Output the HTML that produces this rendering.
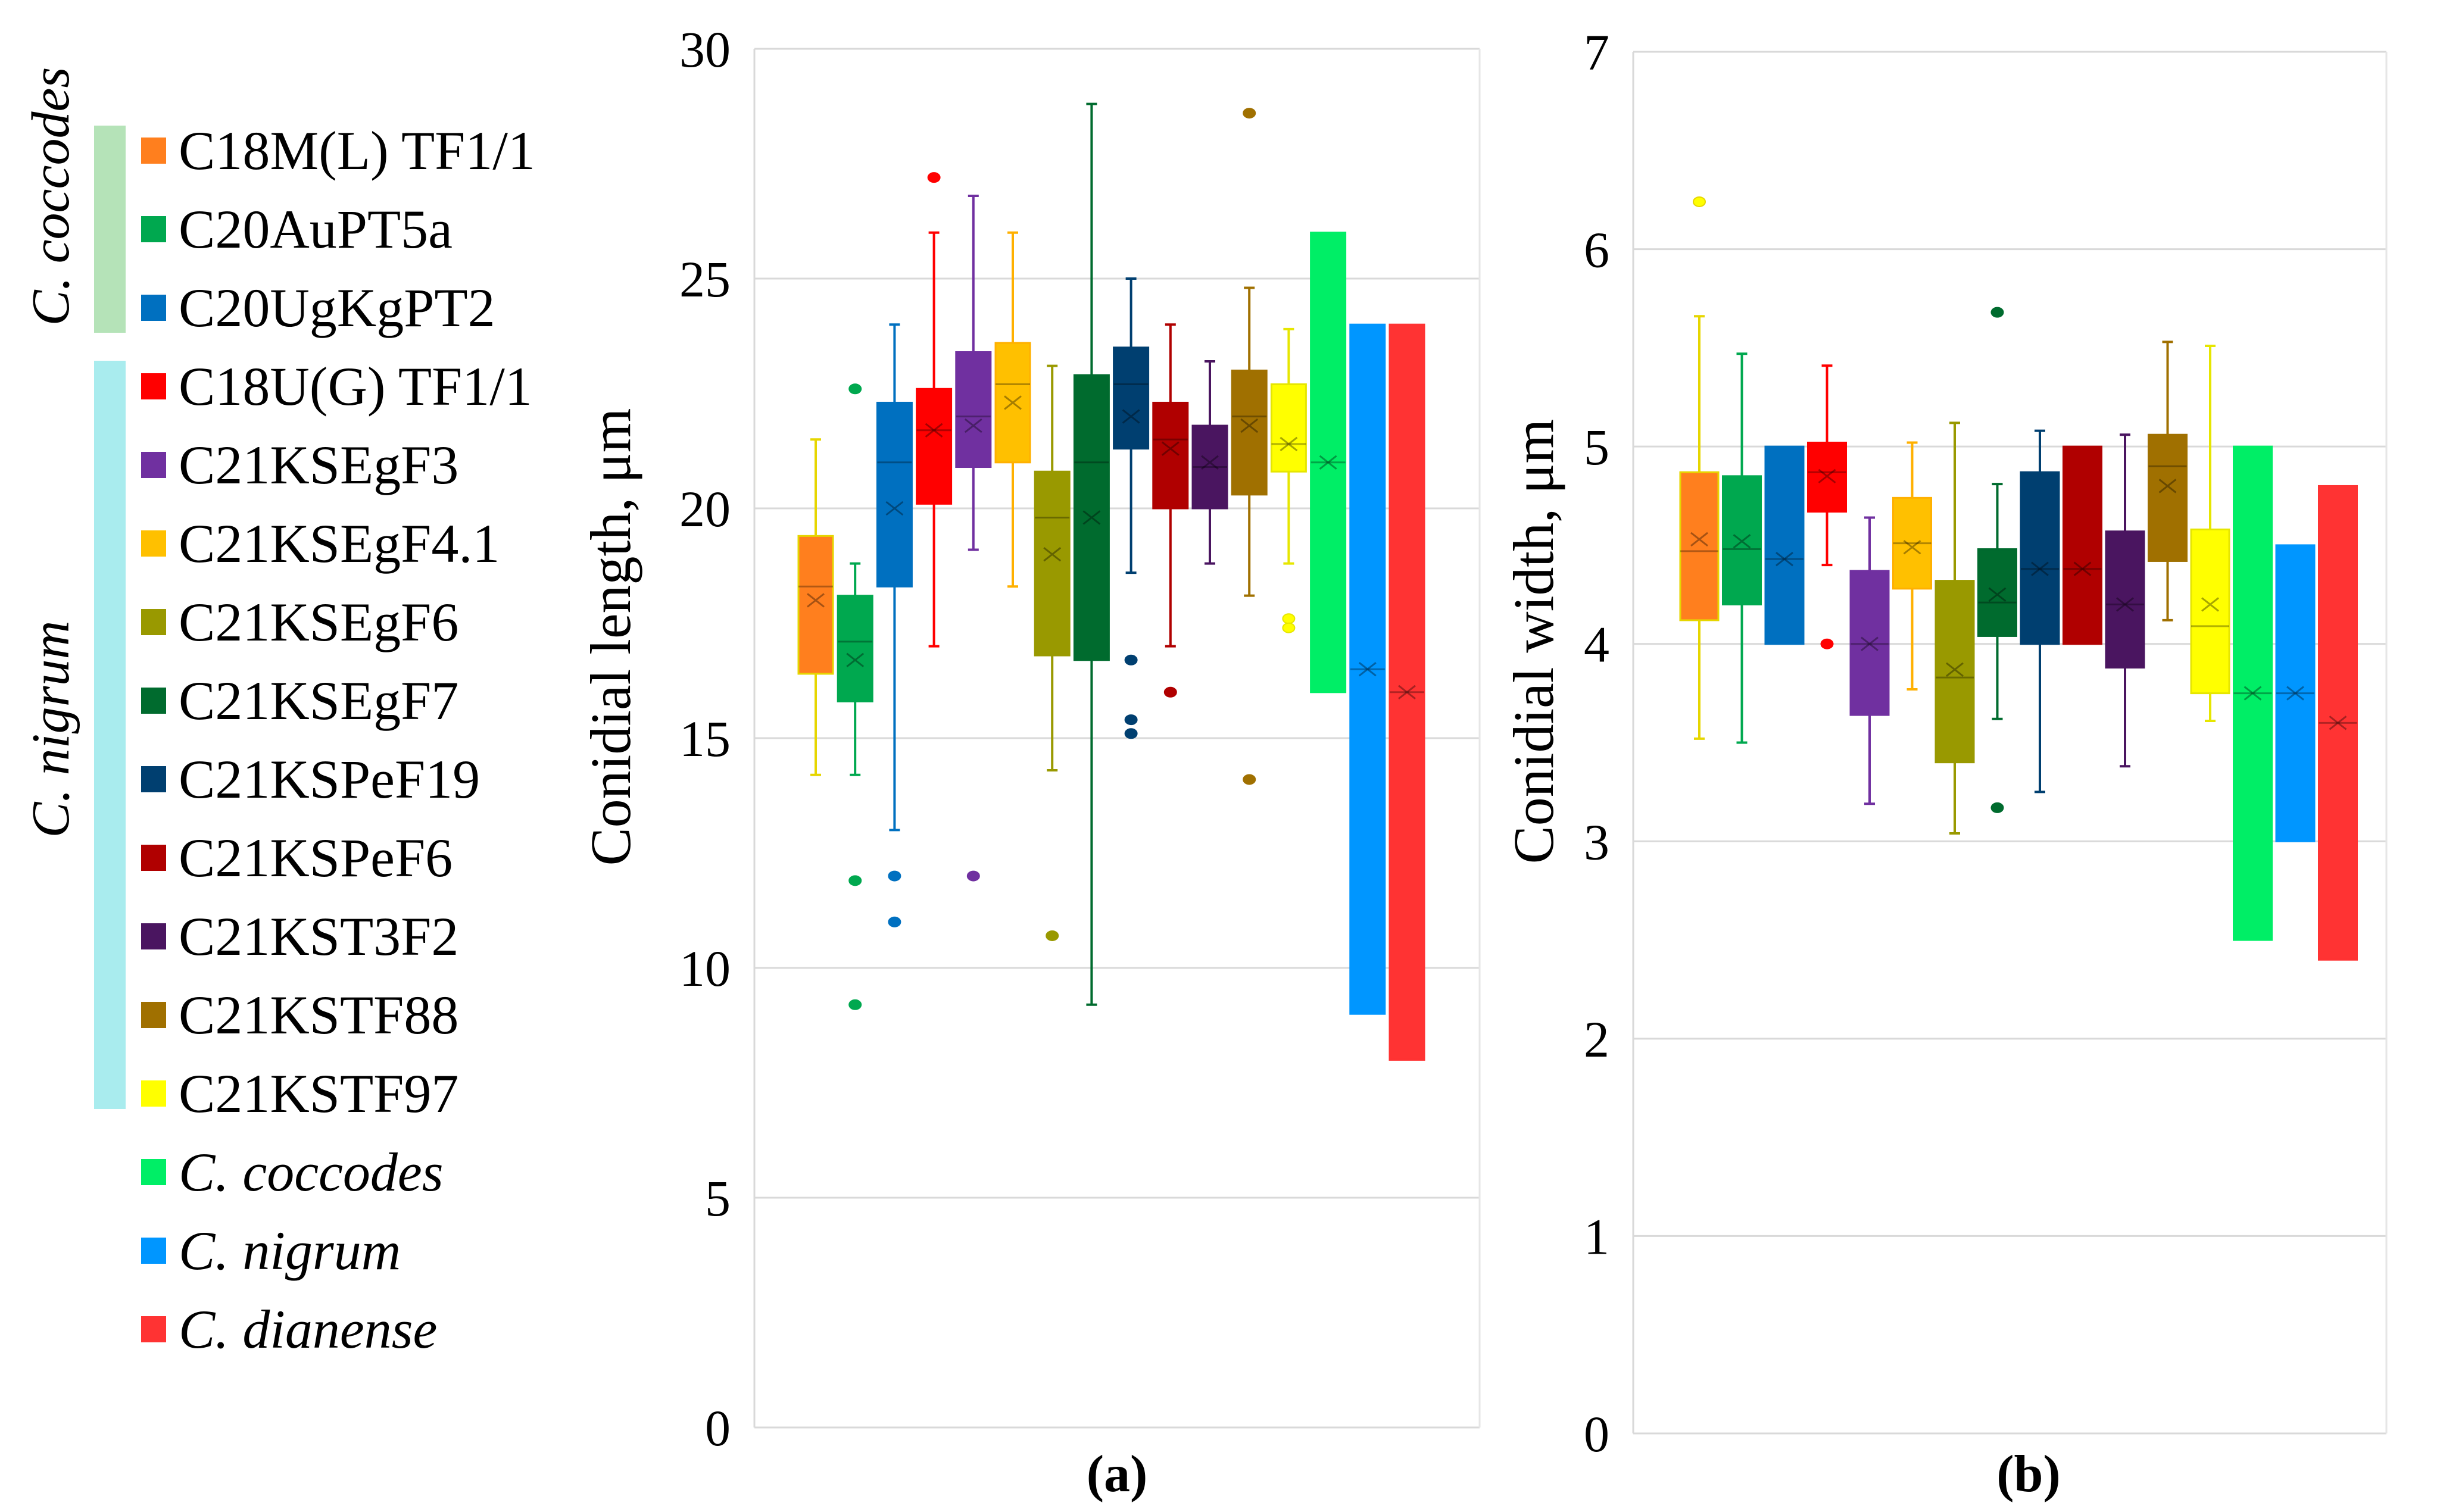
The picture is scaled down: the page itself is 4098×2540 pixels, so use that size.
<!DOCTYPE html>
<html><head><meta charset="utf-8">
<style>
html,body{margin:0;padding:0;background:#fff;}
svg{display:block;font-family:"Liberation Serif",serif;}
</style></head>
<body>
<svg id="chart" width="4098" height="2540" viewBox="0 0 4098 2540" xmlns="http://www.w3.org/2000/svg">
<g id="legend">
<rect x="158" y="211" width="53" height="348" fill="#b5e3b8"/>
<rect x="158" y="606" width="53" height="1257" fill="#a9ecee"/>
<text transform="translate(115,330) rotate(-90)" text-anchor="middle" font-size="90" font-style="italic">C. coccodes</text>
<text transform="translate(115,1225) rotate(-90)" text-anchor="middle" font-size="90" font-style="italic">C. nigrum</text>
</g>
<g id="pa"></g>
<g id="pb"></g>
</svg>
<script>
const names=["C18M(L) TF1/1","C20AuPT5a","C20UgKgPT2","C18U(G) TF1/1","C21KSEgF3","C21KSEgF4.1","C21KSEgF6","C21KSEgF7","C21KSPeF19","C21KSPeF6","C21KST3F2","C21KSTF88","C21KSTF97","C. coccodes","C. nigrum","C. dianense"];
const colors=["#ff7f1e","#00a84f","#0070c0","#ff0000","#7030a0","#ffc000","#999900","#006b2e","#003f70","#b00000","#4a1560","#a07000","#ffff00","#00ee66","#0096ff","#ff3333"];
const whiskColors=["#e6d600","#00a84f","#0070c0","#ff0000","#7030a0","#ffb000","#999900","#006b2e","#003f70","#b00000","#4a1560","#a07000","#e6e600","#00ee66","#0096ff","#ff3333"];
// Panel a: length
const aQ1=[16.4,15.8,18.3,20.1,20.9,21.0,16.8,16.7,21.3,20.0,20.0,20.3,20.8,16,9,8];
const aQ3=[19.4,18.1,22.3,22.6,23.4,23.6,20.8,22.9,23.5,22.3,21.8,23.0,22.7,26,24,24];
const aMed=[18.3,17.1,21.0,21.7,22.0,22.7,19.8,21.0,22.7,21.5,20.9,22.0,21.4,21,16.5,16];
const aMean=[18.0,16.7,20.0,21.7,21.8,22.3,19.0,19.8,22.0,21.3,21.0,21.8,21.4,21,16.5,16];
const aLo=[14.2,14.2,13.0,17.0,19.1,18.3,14.3,9.2,18.6,17.0,18.8,18.1,18.8,null,null,null];
const aHi=[21.5,18.8,24.0,26.0,26.8,26.0,23.1,28.8,25.0,24.0,23.2,24.8,23.9,null,null,null];
const aOut=[[],[22.6,11.9,9.2],[12,11],[27.2],[12],[],[10.7],[],[16.7,15.4,15.1],[16],[],[28.6,14.1],[17.6,17.4],[],[],[]];
const aTicks=[0,5,10,15,20,25,30];
// Panel b: width
const bQ1=[4.12,4.2,4.0,4.67,3.64,4.28,3.4,4.04,4.0,4.0,3.88,4.42,3.75,2.5,3.0,2.4];
const bQ3=[4.87,4.85,5.0,5.02,4.37,4.74,4.32,4.48,4.87,5.0,4.57,5.06,4.58,5.0,4.5,4.8];
const bMed=[4.47,4.48,4.43,4.87,4.0,4.51,3.83,4.21,4.38,4.38,4.2,4.9,4.09,3.75,3.75,3.6];
const bMean=[4.53,4.52,4.43,4.85,4.0,4.49,3.87,4.25,4.38,4.38,4.2,4.8,4.2,3.75,3.75,3.6];
const bLo=[3.52,3.5,null,4.4,3.19,3.77,3.04,3.62,3.25,null,3.38,4.12,3.61,null,null,null];
const bHi=[5.66,5.47,null,5.41,4.64,5.02,5.12,4.81,5.08,null,5.06,5.53,5.51,null,null,null];
const bOut=[[6.24],[],[],[4.0],[],[],[],[5.68,3.17],[],[],[],[],[],[],[],[]];
const bTicks=[0,1,2,3,4,5,6,7];

const NS="http://www.w3.org/2000/svg";
function el(parent,tag,attrs,text){const e=document.createElementNS(NS,tag);for(const k in attrs)e.setAttribute(k,attrs[k]);if(text!==undefined)e.textContent=text;parent.appendChild(e);return e;}

// legend
const lg=document.getElementById('legend');
names.forEach((n,i)=>{
  const y=253+i*132;
  const r=el(lg,'rect',{x:237,y:y-22,width:42,height:44,fill:colors[i]});
  
  
  const t=el(lg,'text',{x:300,y:y+31,'font-size':92,'font-style':i>=13?'italic':'normal'},n);
  
  
});

function panel(gid,cfg){
  const g=document.getElementById(gid);
  const {left,right,top,bottom,max,ticks,q1,q3,med,mean,lo,hi,out,first,step,bw,title,tx,label,lx}=cfg;
  const Y=v=>bottom-(v/max)*(bottom-top);
  const X=i=>first+i*step;
  ticks.forEach(t=>{
    const l=el(g,'line',{x1:left,x2:right,y1:Y(t),y2:Y(t),stroke:'#d9d9d9','stroke-width':3});
    
    
    const tt=el(g,'text',{x:left-40,y:Y(t)+30,'text-anchor':'end','font-size':86},String(t));
    
    
  });
  const ax=el(g,'line',{x1:left,x2:left,y1:top,y2:bottom,stroke:'#d9d9d9','stroke-width':3});
  
  
  const ax2=el(g,'line',{x1:right,x2:right,y1:top,y2:bottom,stroke:'#e6e6e6','stroke-width':3});
  
  
  q1.forEach((_,i)=>{
    const cx=X(i), wc=whiskColors[i], c=colors[i];
    if(lo[i]!==null){
      const w=el(g,'line',{x1:cx,x2:cx,y1:Y(hi[i]),y2:Y(lo[i]),stroke:wc,'stroke-width':4});
      
      
      [hi[i],lo[i]].forEach(v=>{
        const cap=el(g,'line',{x1:cx-9,x2:cx+9,y1:Y(v),y2:Y(v),stroke:wc,'stroke-width':4});
        
        
      });
    }
    const b=el(g,'rect',{x:cx-bw/2,y:Y(q3[i]),width:bw,height:Y(q1[i])-Y(q3[i]),fill:c,stroke:wc,'stroke-width':3});
    
    
    const m=el(g,'line',{x1:cx-bw/2,x2:cx+bw/2,y1:Y(med[i]),y2:Y(med[i]),stroke:'rgba(0,0,0,0.3)','stroke-width':3});
    
    
    const my=Y(mean[i]);
    const mk=el(g,'path',{d:`M${cx-14} ${my-11}L${cx+14} ${my+11}M${cx-14} ${my+11}L${cx+14} ${my-11}`,stroke:'rgba(0,0,0,0.35)','stroke-width':3,fill:'none'});
    
    
    out[i].forEach(v=>{
      const o=el(g,'ellipse',{cx:cx,cy:Y(v),rx:10,ry:8,fill:i===0?'#ffff00':c,stroke:wc,'stroke-width':2});
      
      
    });
  });
  const at=el(g,'text',{transform:`translate(${tx},${(top+bottom)/2-170}) rotate(-90)`,'text-anchor':'middle','font-size':96},title);
  
  
  const pl=el(g,'text',{x:lx,y:2505,'text-anchor':'middle','font-size':88,'font-weight':'bold'},label);
  
  
}
panel('pa',{left:1267,right:2485,top:82,bottom:2398,max:30,ticks:aTicks,q1:aQ1,q3:aQ3,med:aMed,mean:aMean,lo:aLo,hi:aHi,out:aOut,first:1370,step:66.2,bw:58,title:"Conidial length, μm",tx:1058,label:"(a)",lx:1876});
panel('pb',{left:2743,right:4008,top:87,bottom:2408,max:7,ticks:bTicks,q1:bQ1,q3:bQ3,med:bMed,mean:bMean,lo:bLo,hi:bHi,out:bOut,first:2854,step:71.5,bw:64,title:"Conidial width, μm",tx:2608,label:"(b)",lx:3407});
</script>
</body></html>
